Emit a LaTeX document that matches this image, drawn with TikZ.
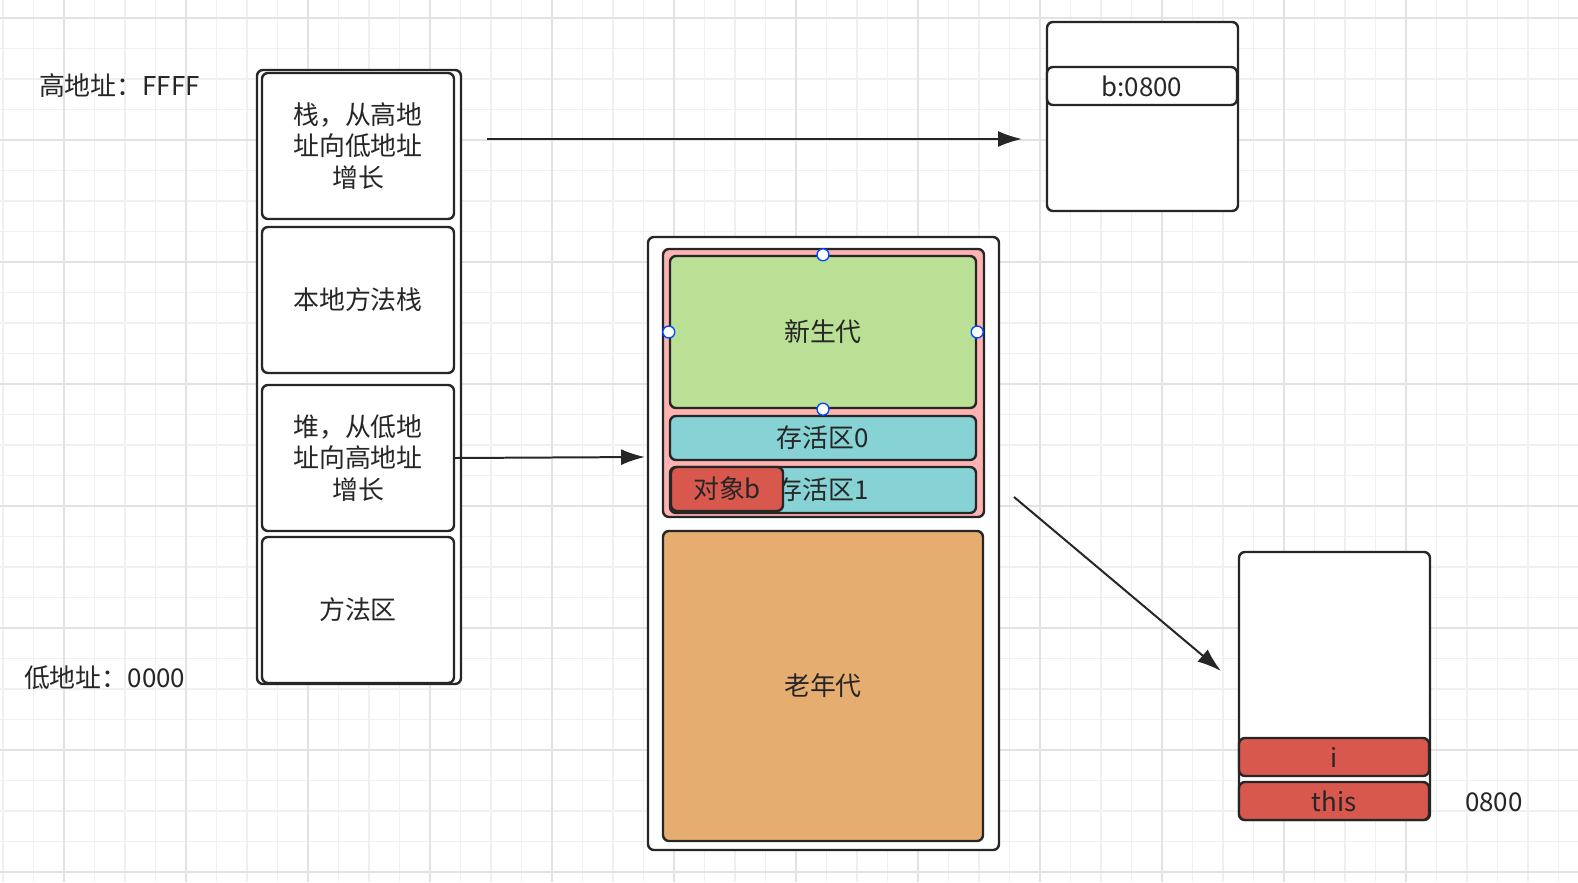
\documentclass[tikz,border=0pt]{standalone}
\usepackage{fontspec}
\setmainfont{Noto Sans CJK SC}
\usetikzlibrary{arrows.meta}
\begin{document}
\begin{tikzpicture}[x=0.5bp,y=-0.5bp,
  box/.style={draw=black!85,line width=1.2pt,rounded corners=3pt},
  lbl/.style={font=\fontsize{13}{16}\selectfont,align=center,text=black!85},
  arr/.style={draw=black!85,line width=1pt,-{Latex[length=12pt,width=8pt]}},
  hnd/.style={circle,draw=blue!70!cyan,fill=white,inner sep=0pt,minimum size=6pt,line width=0.7pt}]
\useasboundingbox (0,0) rectangle (1578,882);
\fill[white] (0,0) rectangle (1578,882);
\foreach \i in {0,...,52} {\draw[black!6,line width=0.6pt] (3+30.5*\i,0) -- (3+30.5*\i,882);}
\foreach \i in {0,...,29} {\draw[black!6,line width=0.6pt] (0,18+30.5*\i) -- (1578,18+30.5*\i);}
\foreach \i in {0,...,12} {\draw[black!11,line width=0.8pt] (64+122*\i-122,0) -- (64+122*\i-122,882);}
\foreach \i in {0,...,7} {\draw[black!11,line width=0.8pt] (0,18+122*\i) -- (1578,18+122*\i);}
% left stack
\draw[box,fill=white] (257,70) rectangle (461,684);
\node[box,lbl,minimum width=96bp,minimum height=73bp,fill=white] (stk) at (358,146) {栈，从高地\\址向低地址\\增长};
\node[box,lbl,minimum width=96bp,minimum height=73bp,fill=white] (nat) at (358,300) {本地方法栈};
\node[box,lbl,minimum width=96bp,minimum height=73bp,fill=white] (heap) at (358,458) {堆，从低地\\址向高地址\\增长};
\node[box,lbl,minimum width=96bp,minimum height=73bp,fill=white] (meth) at (358,610) {方法区};
\node[lbl,anchor=west] (hi) at (32,86) {高地址：FFFF};
\node[lbl,anchor=west] (lo) at (17,678) {低地址：0000};
% top right frame
\draw[box,fill=white] (1047,22) rectangle (1238,211);
\node[box,lbl,fill=white,minimum width=95bp,minimum height=19bp] (b) at (1142,86) {b:0800};
\coordinate (s1) at (487,139);
\coordinate (e1) at (1022,139);
\draw[arr] (s1) -- (e1);
% heap
\draw[box,fill=white] (648,237) rectangle (999,850);
\draw[box,fill=red!30!white] (663,249) rectangle (984,517);
\node[box,lbl,fill={rgb,255:red,185;green,224;blue,148},minimum width=153bp,minimum height=76bp] (young) at (823,332) {新生代};
\node[box,lbl,fill={rgb,255:red,134;green,210;blue,212},minimum width=153bp,minimum height=22bp] (s0) at (823,438) {存活区0};
\node[box,lbl,fill={rgb,255:red,134;green,210;blue,212},minimum width=153bp,minimum height=23bp] (s1b) at (823,490) {存活区1};
\node[box,lbl,fill={rgb,255:red,217;green,88;blue,78},minimum width=56bp,minimum height=22bp] (obj) at (727,489) {对象b};
\node[box,lbl,fill={rgb,255:red,229;green,174;blue,112},minimum width=160bp,minimum height=155bp] (old) at (823,686) {老年代};
\foreach \p in {north,south,east,west} \node[hnd] at (young.\p) {};
\draw[arr] (heap.east) -- (645,457);
% bottom right frame
\draw[box,fill=white] (1239,552) rectangle (1430,820);
\node[box,lbl,fill={rgb,255:red,217;green,88;blue,78},minimum width=95bp,minimum height=19bp] (i) at (1334,757) {i};
\node[box,lbl,fill={rgb,255:red,217;green,88;blue,78},minimum width=95bp,minimum height=19bp] (this) at (1334,801) {this};
\node[lbl,anchor=west] (addr) at (1458,802) {0800};
\coordinate (s2) at (1014,497);
\coordinate (e2) at (1221,671);
\draw[arr] (s2) -- (e2);
\end{tikzpicture}
\end{document}
